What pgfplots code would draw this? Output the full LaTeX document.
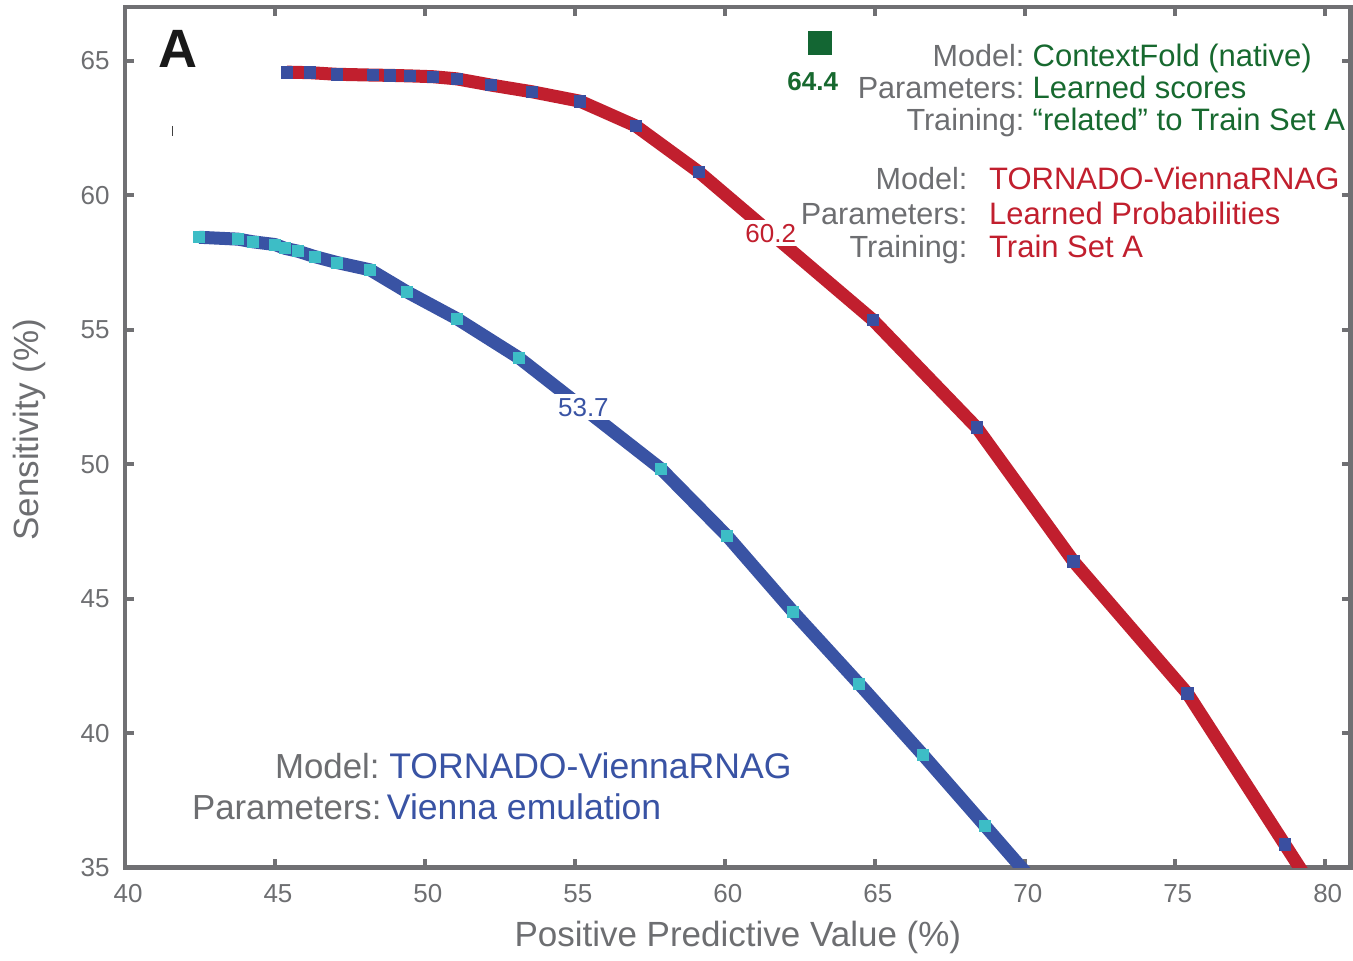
\documentclass[border=0pt]{standalone}
\usepackage{fontspec}
\setmainfont{Liberation Sans}
\usepackage{pgfplots}
\pgfplotsset{compat=1.18}
\definecolor{axgray}{HTML}{707073}
\definecolor{txtgray}{HTML}{6D6E71}
\definecolor{cred}{HTML}{C11F2E}
\definecolor{cblue}{HTML}{3953A4}
\definecolor{cgreen}{HTML}{17692F}
\definecolor{sqgreen}{HTML}{136633}
\definecolor{ccyan}{HTML}{3DBDC6}
\definecolor{mblue}{HTML}{3A4FA0}
\pgfplotstableread{
x y
42.47 58.44
43.77 58.37
44.27 58.27
45.00 58.17
45.33 58.03
45.77 57.92
46.33 57.72
47.07 57.50
48.17 57.23
49.40 56.41
51.07 55.41
53.13 53.96
57.87 49.83
60.07 47.34
62.27 44.52
64.47 41.84
66.60 39.20
68.67 36.56
70.20 34.60
}\bluedata
\pgfplotstableread{
x y
45.40 64.58
46.17 64.56
47.06 64.50
48.27 64.47
48.83 64.46
49.50 64.44
50.27 64.41
51.06 64.33
52.20 64.10
53.57 63.85
55.17 63.50
57.03 62.58
59.13 60.87
64.93 55.37
68.40 51.36
71.63 46.38
75.43 41.47
78.67 35.86
79.60 34.25
}\reddata
\begin{document}
\begin{tikzpicture}
\begin{axis}[
 name=ax,
 scale only axis, width=613pt, height=430.5pt,
 xmin=40, xmax=80.867, ymin=35, ymax=67.007,
 xtick={40,45,...,80}, ytick={35,40,...,65},
 axis line style={axgray, line width=2.3pt},
 major tick style={axgray, line width=2pt},
 major tick length=4.5pt,
 tick align=inside,
 ticklabel style={font=\fontsize{13}{15}\selectfont, text=txtgray},
 /pgf/number format/assume math mode=true,
 yticklabel style={xshift=-4.2pt},
 xticklabel style={yshift=-5pt, xshift=1.5pt},
 xlabel={Positive Predictive Value (\%)},
 ylabel={Sensitivity (\%)},
 label style={font=\fontsize{17.5}{20}\selectfont, text=txtgray},
 xlabel style={at={(axis description cs:0.5,-0.0917)}, anchor=base},
 ylabel style={at={(axis description cs:-0.071,0.5087)}, anchor=base},
]
\coordinate (bl) at (axis description cs:-0.102,-0.1045);
\coordinate (tr) at (axis description cs:1.0016,1.008);

\addplot[only marks, mark=square*, mark size=2.8pt, ccyan] table {\bluedata};
\addplot[cblue, line width=6.5pt, line join=round] table {\bluedata};
\addplot[only marks, mark=square*, mark size=2.9pt, mblue] table {\reddata};
\addplot[cred, line width=6.5pt, line join=round] table {\reddata};
\addplot[only marks, mark=square*, mark size=5.75pt, sqgreen] coordinates {(63.18,65.66)};
\addplot[only marks, mark=|, mark size=2.5pt, black!75, mark options={line width=0.6pt}] coordinates {(41.57,62.4)};

\node[anchor=base, font=\fontsize{27}{30}\selectfont\bfseries, text=black!90] at (axis cs:41.75,64.74) {A};
\node[anchor=base, font=\fontsize{13}{15}\selectfont\bfseries, text=cgreen] at (axis cs:62.93,63.885) {64.4};
\node[fill=white, inner sep=2pt, font=\fontsize{13}{15}\selectfont, text=cred] at (axis cs:61.53,58.595) {60.2};
\node[fill=white, inner sep=2pt, font=\fontsize{13}{15}\selectfont, text=cblue] at (axis cs:55.283,52.119) {53.7};

% green block
\begin{scope}[every node/.style={font=\fontsize{15.3}{18}\selectfont, inner sep=0pt}]
\node[anchor=base east, text=txtgray] at (axis cs:70.0,64.80) {Model:};
\node[anchor=base east, text=txtgray] at (axis cs:70.0,63.59) {Parameters:};
\node[anchor=base east, text=txtgray] at (axis cs:70.0,62.40) {Training:};
\end{scope}
\begin{scope}[every node/.style={font=\fontsize{15.5}{18}\selectfont, inner sep=0pt}]
\node[anchor=base west, text=cgreen] at (axis cs:70.25,64.80) {ContextFold (native)};
\node[anchor=base west, text=cgreen] at (axis cs:70.25,63.59) {Learned scores};
\node[anchor=base west, text=cgreen] at (axis cs:70.25,62.40) {“related” to Train Set A};
\end{scope}
% red block
\begin{scope}[every node/.style={font=\fontsize{15.3}{18}\selectfont, inner sep=0pt}]
\node[anchor=base east, text=txtgray] at (axis cs:68.1,60.20) {Model:};
\node[anchor=base east, text=txtgray] at (axis cs:68.1,58.90) {Parameters:};
\node[anchor=base east, text=txtgray] at (axis cs:68.1,57.69) {Training:};
\end{scope}
\begin{scope}[every node/.style={font=\fontsize{15.5}{18}\selectfont, inner sep=0pt}]
\node[anchor=base west, text=cred] at (axis cs:68.80,60.20) {TORNADO-ViennaRNAG};
\node[anchor=base west, text=cred] at (axis cs:68.80,58.90) {Learned Probabilities};
\node[anchor=base west, text=cred] at (axis cs:68.80,57.69) {Train Set A};
\end{scope}
% blue block
\begin{scope}[every node/.style={font=\fontsize{17.4}{20}\selectfont, inner sep=0pt}]
\node[anchor=base east, text=txtgray] at (axis cs:48.5,38.30) {Model:};
\node[anchor=base east, text=txtgray] at (axis cs:48.567,36.78) {Parameters:};
\end{scope}
\begin{scope}[every node/.style={font=\fontsize{17.8}{20}\selectfont, inner sep=0pt}]
\node[anchor=base west, text=cblue] at (axis cs:48.80,38.30) {TORNADO-ViennaRNAG};
\node[anchor=base west, text=cblue] at (axis cs:48.72,36.78) {Vienna emulation};
\end{scope}
\end{axis}
\path (bl) rectangle (tr);
\end{tikzpicture}
\end{document}
